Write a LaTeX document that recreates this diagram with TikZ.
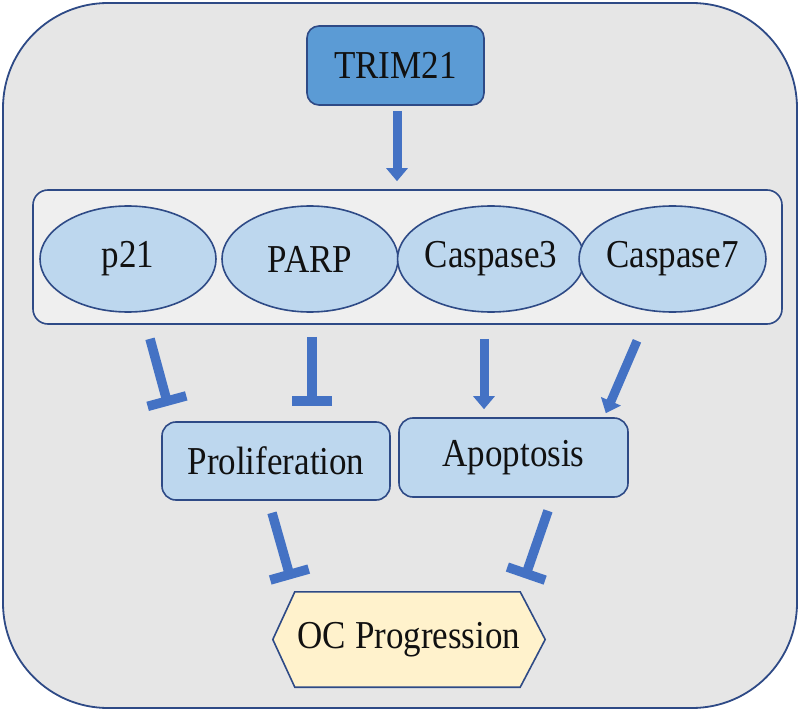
\documentclass[tikz,border=0pt]{standalone}
\usepackage{fontspec}
\setmainfont{Liberation Serif}
\usetikzlibrary{arrows.meta,calc,shapes.geometric}
\definecolor{outerfill}{HTML}{E6E6E6}
\definecolor{boxfill}{HTML}{EFEFEF}
\definecolor{edge}{HTML}{2E4A86}
\definecolor{lightblue}{HTML}{BDD7EE}
\definecolor{midblue}{HTML}{5B9BD5}
\definecolor{arrowblue}{HTML}{4472C4}
\definecolor{ocfill}{HTML}{FFF2CC}
\definecolor{txt}{HTML}{111111}
\newcommand{\tx}[1]{\scalebox{1}[1.13]{#1}}
\tikzset{
  lbl/.style={text=txt,font=\fontsize{35}{40}\selectfont},
  ell/.style={ellipse,draw=edge,line width=1.6pt,fill=lightblue,minimum width=176pt,minimum height=106pt,inner sep=0pt,lbl},
  rbox/.style={rectangle,rounded corners=14pt,draw=edge,line width=1.6pt,fill=lightblue,inner sep=0pt,lbl},
  act/.style={draw=arrowblue,line width=9pt,-{Triangle[width=21pt,length=13pt]},arrowblue},
  inh/.style={draw=arrowblue,line width=9.5pt,-{Bar[width=40pt]}},
}
\begin{document}
\begin{tikzpicture}[x=1pt,y=-1pt]
\useasboundingbox (0,0) rectangle (800,711);
\draw[draw=edge,line width=1.8pt,fill=outerfill,rounded corners=105pt] (3,3) rectangle (797,708);
% TRIM21
\node[rbox,fill=midblue,rounded corners=12pt,minimum width=177pt,minimum height=79pt] (trim) at (395.5,65.5) {\tx{TRIM21}};
% container
\node[draw=edge,line width=1.6pt,fill=boxfill,rounded corners=15pt,minimum width=749pt,minimum height=134pt,inner sep=0pt] (cont) at (407.5,257) {};
% ellipses
\node[ell] (p21) at (128,259) {\tx{p21}};
\node[ell] (parp) at (310,259) {\tx{PARP}};
\node[ell,minimum width=178pt] (cas3) at (491,259) {\tx{Caspase3}};
\node[ell,minimum width=179pt] (cas7) at (672.5,259) {\tx{Caspase7}};
% outcome boxes
\node[rbox,minimum width=228pt,minimum height=78pt] (prolif) at (276,461) {\tx{Proliferation}};
\node[rbox,minimum width=229pt,minimum height=79pt] (apop) at (513.5,457.5) {\tx{Apoptosis}};
% OC progression
\node[lbl,minimum width=272pt,minimum height=95pt,inner sep=0pt] (oc) at (409,639.5) {};
\draw[draw=edge,line width=1.6pt,fill=ocfill] (oc.west) -- ($(oc.north west)+(22,0)$) -- ($(oc.north east)+(-25,0)$) -- (oc.east) -- ($(oc.south east)+(-25,0)$) -- ($(oc.south west)+(22,0)$) -- cycle;
\node[lbl] at (oc.center) {\tx{OC Progression}};
% connectors
\draw[act] ($(trim.south)+(1.5,5)$) -- ($(cont.north)+(-10.5,-8)$);
\draw[inh] ($(p21.south)+(22,26)$) -- ($(prolif.north west)+(7,-15.5)$);
\draw[inh] ($(parp.south)+(2,24)$) -- ($(prolif.north)+(36,-15.5)$);
\draw[act] ($(cas3.south)+(-7,26)$) -- ($(apop.north)+(-29.5,-8)$);
\draw[act] ($(cas7.south)+(-35.5,28)$) -- ($(apop.north east)+(-23,-4)$);
\draw[inh] ($(prolif.south)+(-4,12)$) -- ($(oc.north west)+(18,-12.7)$);
\draw[inh] ($(apop.south)+(34.5,13)$) -- ($(oc.north east)+(-20.5,-13.7)$);
\end{tikzpicture}
\end{document}
